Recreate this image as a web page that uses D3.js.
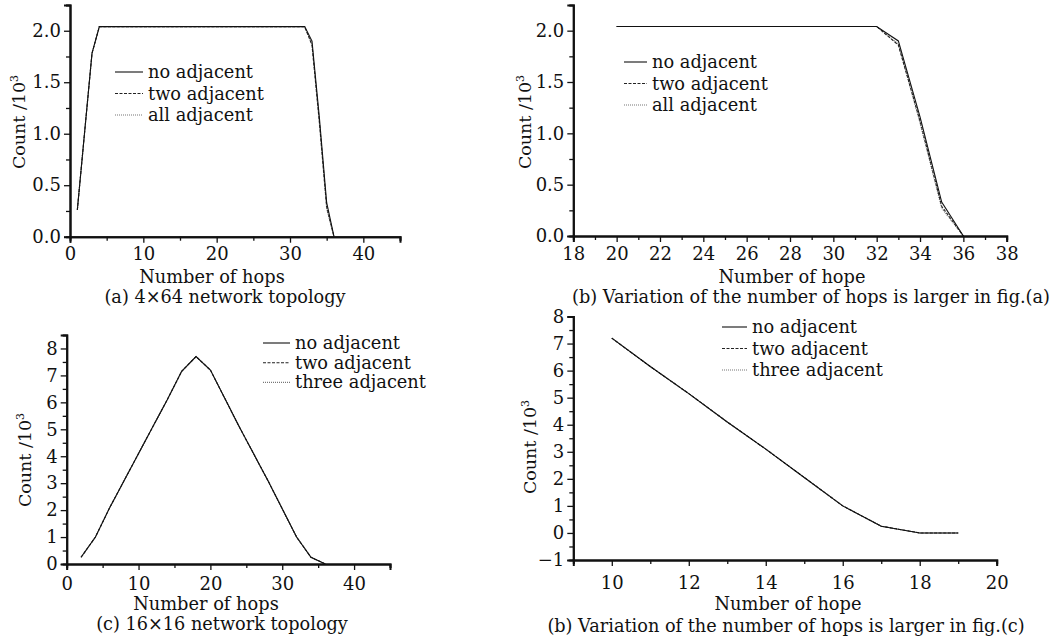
<!DOCTYPE html>
<html>
<head>
<meta charset="utf-8">
<script src="https://cdn.jsdelivr.net/npm/d3@7"></script>
<style>
  body { margin: 0; background: #fff; }
  svg text { font-family: "DejaVu Serif", serif; fill: #111; }
</style>
</head>
<body>
<div class="content"></div>
<script>
// 4x64 topology (panels a and b share the same runs)
var hopsA = [1,2,3,4,5,6,7,8,9,10,11,12,13,14,15,16,17,18,19,20,21,22,23,24,25,26,27,28,29,30,31,32,33,34,35,36];
var noAdjA = [0.26,1.02,1.78,2.04,2.04,2.04,2.04,2.04,2.04,2.04,2.04,2.04,2.04,2.04,2.04,2.04,2.04,2.04,2.04,2.04,2.04,2.04,2.04,2.04,2.04,2.04,2.04,2.04,2.04,2.04,2.04,2.04,1.90,1.16,0.33,0];
var twoAdjA = [0.26,1.02,1.78,2.04,2.04,2.04,2.04,2.04,2.04,2.04,2.04,2.04,2.04,2.04,2.04,2.04,2.04,2.04,2.04,2.04,2.04,2.04,2.04,2.04,2.04,2.04,2.04,2.04,2.04,2.04,2.04,2.04,1.86,1.12,0.29,0];
var allAdjA = [0.26,1.02,1.78,2.04,2.04,2.04,2.04,2.04,2.04,2.04,2.04,2.04,2.04,2.04,2.04,2.04,2.04,2.04,2.04,2.04,2.04,2.04,2.04,2.04,2.04,2.04,2.04,2.04,2.04,2.04,2.04,2.04,1.87,1.10,0.27,0];

// 16x16 topology
var hopsC = [2,4,6,8,10,12,14,16,18,20,22,24,26,28,30,32,34,36];
var noAdjC = [0.25,1.0,2.1,3.1,4.1,5.1,6.1,7.15,7.7,7.2,6.15,5.1,4.1,3.1,2.05,1.0,0.25,0];
var twoAdjC = [0.25,1.0,2.1,3.1,4.1,5.1,6.1,7.15,7.7,7.2,6.15,5.1,4.1,3.1,2.05,1.0,0.25,0];
var threeAdjC = [0.25,1.0,2.1,3.1,4.1,5.1,6.1,7.15,7.7,7.2,6.15,5.1,4.1,3.1,2.05,1.0,0.25,0];

var hopsD = [10,11,12,13,14,15,16,17,18,19];
var noAdjD = [7.2,6.15,5.15,4.1,3.1,2.05,1.0,0.25,0,0];
var twoAdjD = [7.2,6.15,5.15,4.1,3.1,2.05,1.0,0.25,0,0];
var threeAdjD = [7.2,6.15,5.15,4.1,3.1,2.05,1.0,0.25,0,0];

var namesAB = ["no adjacent","two adjacent","all adjacent"];
var namesCD = ["no adjacent","two adjacent","three adjacent"];

var ticksA = [0,10,20,30,40], minorA = [5,15,25,35,45];
var ticksB = [18,20,22,24,26,28,30,32,34,36,38], minorB = [19,21,23,25,27,29,31,33,35,37];
var ticksD = [10,12,14,16,18,20], minorD = [9,11,13,15,17,19];
var yTicksAB = [0,0.5,1.0,1.5,2.0], yMinorAB = [0.25,0.75,1.25,1.75,2.25];
var yTicksC = [0,1,2,3,4,5,6,7,8], yMinorC = [0.5,1.5,2.5,3.5,4.5,5.5,6.5,7.5,8.5];
var yTicksD = [-1,0,1,2,3,4,5,6,7,8], yMinorD = [-0.5,0.5,1.5,2.5,3.5,4.5,5.5,6.5,7.5];

var styles = [
  {dash: null, color: "#111", width: 1.1},
  {dash: "3,1.5", color: "#222", width: 1.1},
  {dash: "1,1", color: "#777", width: 1.1}
];

var svg = d3.select(".content")
  .append("svg")
  .attr("width", 1060)
  .attr("height", 639)

function zip(xs, ys) {
  var out = [];
  xs.forEach(function(x, i) { out.push([x, ys[i]]); });
  return out;
}

function panel(p) {
  var x = d3.scaleLinear().domain(p.xDomain).range([p.left, p.right]);
  var y = d3.scaleLinear().domain(p.yDomain).range([p.bottom, p.top]);
  var g = svg.append("g");

  // series, dotted first so the solid one sits on top
  var line = d3.line().x(function(d) { return x(d[0]); }).y(function(d) { return y(d[1]); });
  for (var i = p.series.length - 1; i >= 0; i--) {
    var s = styles[i];
    g.append("path")
      .datum(zip(p.hops, p.series[i]).filter(function(d) { return d[0] >= p.from; }))
      .attr("d", line)
      .attr("fill", "none")
      .attr("stroke", s.color)
      .attr("stroke-width", s.width)
      .attr("stroke-dasharray", s.dash);
  }

  // axes
  g.append("g").attr("transform", "translate(0," + p.bottom + ")")
    .call(d3.axisBottom(x).tickValues(p.xTicks).tickSize(6).tickPadding(p.xPad).tickFormat(d3.format("d")));
  g.append("g").attr("transform", "translate(0," + p.bottom + ")")
    .call(d3.axisBottom(x).tickValues(p.xMinor).tickSize(4).tickFormat(""));
  var ya = g.append("g").attr("transform", "translate(" + p.left + ",0)")
    .call(d3.axisLeft(y).tickValues(p.yTicks).tickSize(6).tickPadding(3).tickFormat(d3.format(p.yFormat)));
  g.append("g").attr("transform", "translate(" + p.left + ",0)")
    .call(d3.axisLeft(y).tickValues(p.yMinor).tickSize(4).tickFormat(""));

  g.selectAll(".domain").attr("stroke", "#111").attr("stroke-width", 2);
  g.selectAll(".tick line").attr("stroke", "#111").attr("stroke-width", 1.3);
  g.selectAll(".tick text").style("font-family", "DejaVu Serif").style("font-size", "18px").attr("fill", "#111");
  ya.selectAll(".tick text").text(function(d) { return d < 0 ? "\u2212" + Math.abs(d) : d3.format(p.yFormat)(d); });

  // labels
  g.append("text").attr("x", p.xLabelX).attr("y", p.xLabelY)
    .style("text-anchor", "middle").style("font-size", "17.8px").text(p.xLabel);
  g.append("text").attr("x", p.captionX).attr("y", p.captionY)
    .style("text-anchor", "middle").style("font-size", "17.7px").text(p.caption);
  var yl = g.append("text")
    .attr("transform", "translate(" + p.yLabelX + "," + p.yLabelY + ") rotate(-90)")
    .style("text-anchor", "middle").style("font-size", "17.5px");
  yl.append("tspan").text("Count /10");
  yl.append("tspan").attr("dy", -7).style("font-size", "11px").text("3");

  // legend
  var lg = g.append("g").attr("transform", "translate(" + p.legendX + "," + p.legendY + ")");
  p.names.forEach(function(n, i) {
    var s = styles[i];
    lg.append("line").attr("x1", 0).attr("x2", p.legendLen).attr("y1", i * p.legendStep).attr("y2", i * p.legendStep)
      .attr("stroke", s.color).attr("stroke-width", 1.1).attr("stroke-dasharray", s.dash);
    lg.append("text").attr("x", p.legendLen + 5).attr("y", i * p.legendStep + 6)
      .style("font-size", "17.8px").text(n);
  });
}

panel({
  left: 70, right: 400, top: 5, bottom: 236.7,
  xDomain: [0, 45], yDomain: [0, 2.25], from: 0, xPad: 5,
  xTicks: ticksA, xMinor: minorA, yTicks: yTicksAB, yMinor: yMinorAB, yFormat: ".1f",
  hops: hopsA, series: [noAdjA, twoAdjA, allAdjA], names: namesAB,
  legendX: 115, legendY: 72, legendLen: 28, legendStep: 21.5,
  xLabel: "Number of hops", xLabelX: 212, xLabelY: 283,
  caption: "(a) 4\u00d764 network topology", captionX: 225, captionY: 303,
  yLabelX: 25, yLabelY: 122
});

panel({
  left: 573.3, right: 1006.7, top: 5, bottom: 236,
  xDomain: [18, 38], yDomain: [0, 2.25], from: 20, xPad: 5.5,
  xTicks: ticksB, xMinor: minorB, yTicks: yTicksAB, yMinor: yMinorAB, yFormat: ".1f",
  hops: hopsA, series: [noAdjA, twoAdjA, allAdjA], names: namesAB,
  legendX: 624, legendY: 62, legendLen: 23, legendStep: 21.5,
  xLabel: "Number of hope", xLabelX: 792, xLabelY: 283,
  caption: "(b) Variation of the number of hops is larger in fig.(a)", captionX: 811, captionY: 303,
  yLabelX: 531, yLabelY: 122
});

panel({
  left: 66.7, right: 390, top: 335, bottom: 564,
  xDomain: [0, 45], yDomain: [0, 8.5], from: 0, xPad: 7.5,
  xTicks: ticksA, xMinor: minorA, yTicks: yTicksC, yMinor: yMinorC, yFormat: "d",
  hops: hopsC, series: [noAdjC, twoAdjC, threeAdjC], names: namesCD,
  legendX: 263, legendY: 343, legendLen: 27, legendStep: 19.7,
  xLabel: "Number of hops", xLabelX: 206, xLabelY: 610,
  caption: "(c) 16\u00d716 network topology", captionX: 222, captionY: 630,
  yLabelX: 31, yLabelY: 460
});

panel({
  left: 573.3, right: 996.7, top: 316.5, bottom: 560,
  xDomain: [9, 20], yDomain: [-1, 8], from: 9, xPad: 10,
  xTicks: ticksD, xMinor: minorD, yTicks: yTicksD, yMinor: yMinorD, yFormat: "d",
  hops: hopsD, series: [noAdjD, twoAdjD, threeAdjD], names: namesCD,
  legendX: 722, legendY: 327, legendLen: 25, legendStep: 21.5,
  xLabel: "Number of hope", xLabelX: 788, xLabelY: 610,
  caption: "(b) Variation of the number of hops is larger in fig.(c)", captionX: 786, captionY: 632,
  yLabelX: 536, yLabelY: 447
});
</script>
</body>
</html>
